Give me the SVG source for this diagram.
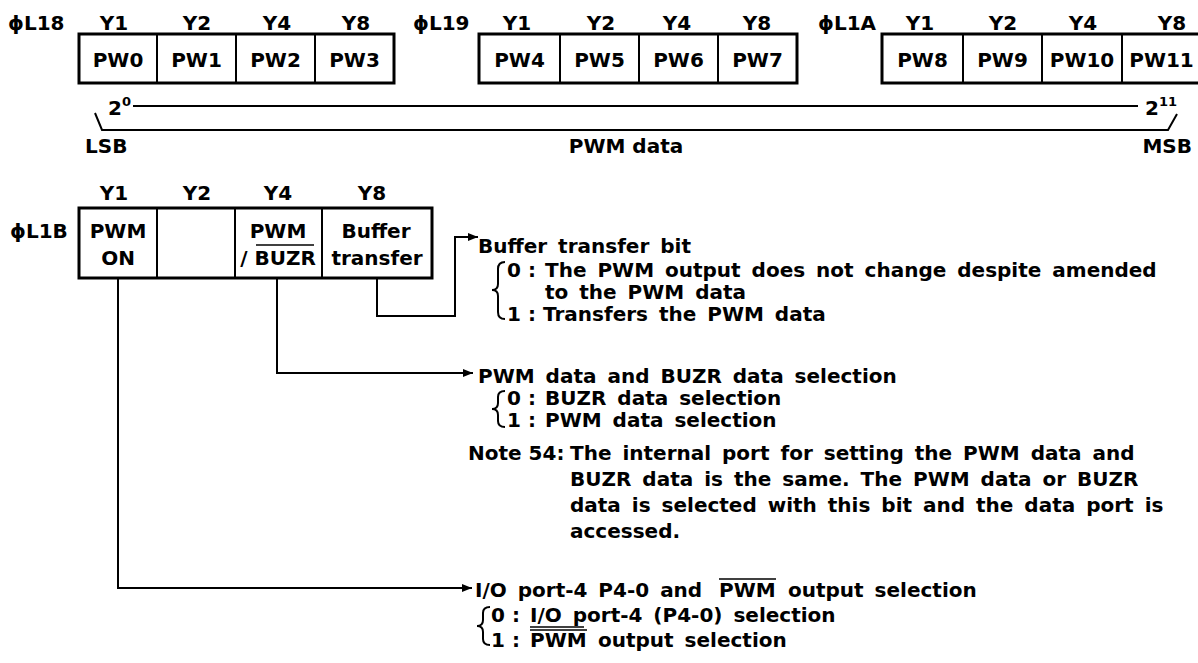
<svg xmlns="http://www.w3.org/2000/svg" width="1198" height="663" viewBox="0 0 1198 663">
<defs>
<style>
.t{font-family:"DejaVu Sans","Liberation Sans",Arial,sans-serif;font-size:20px;font-weight:bold;fill:#000}
.c{text-anchor:middle}
.e{text-anchor:end}
.d{word-spacing:4px}
.sup{font-size:13px}
.box{fill:#fff;stroke:#000;stroke-width:3}
.dv{stroke:#000;stroke-width:2}
.ln{fill:none;stroke:#000;stroke-width:2}
.ol{stroke:#000;stroke-width:1.5}
</style>
<marker id="ah" markerUnits="userSpaceOnUse" markerWidth="10" markerHeight="8" refX="10" refY="4" orient="auto">
<path d="M0,0 L10,4 L0,8 z" fill="#000"/>
</marker>
</defs>
<rect width="1198" height="663" fill="#fff"/>

<g id="reg-L18">
<text class="t" x="8" y="30">ϕL18</text>
<text class="t c" x="114" y="30">Y1</text>
<text class="t c" x="197" y="30">Y2</text>
<text class="t c" x="277" y="30">Y4</text>
<text class="t c" x="356" y="30">Y8</text>
<rect class="box" x="79" y="34" width="315" height="49"/>
<line class="dv" x1="157" y1="34" x2="157" y2="83"/>
<line class="dv" x1="236" y1="34" x2="236" y2="83"/>
<line class="dv" x1="315" y1="34" x2="315" y2="83"/>
<text class="t c" x="118" y="67">PW0</text>
<text class="t c" x="196.5" y="67">PW1</text>
<text class="t c" x="275.5" y="67">PW2</text>
<text class="t c" x="354.5" y="67">PW3</text>
</g>

<g id="reg-L19">
<text class="t" x="413" y="30">ϕL19</text>
<text class="t c" x="517" y="30">Y1</text>
<text class="t c" x="601" y="30">Y2</text>
<text class="t c" x="677" y="30">Y4</text>
<text class="t c" x="757" y="30">Y8</text>
<rect class="box" x="479" y="34" width="318" height="49"/>
<line class="dv" x1="560" y1="34" x2="560" y2="83"/>
<line class="dv" x1="639" y1="34" x2="639" y2="83"/>
<line class="dv" x1="718" y1="34" x2="718" y2="83"/>
<text class="t c" x="519.5" y="67">PW4</text>
<text class="t c" x="599.5" y="67">PW5</text>
<text class="t c" x="678.5" y="67">PW6</text>
<text class="t c" x="757.5" y="67">PW7</text>
</g>

<g id="reg-L1A">
<text class="t" x="818" y="30">ϕL1A</text>
<text class="t c" x="920" y="30">Y1</text>
<text class="t c" x="1003" y="30">Y2</text>
<text class="t c" x="1083" y="30">Y4</text>
<text class="t c" x="1172" y="30">Y8</text>
<rect class="box" x="882" y="34" width="319" height="49"/>
<line class="dv" x1="963" y1="34" x2="963" y2="83"/>
<line class="dv" x1="1042" y1="34" x2="1042" y2="83"/>
<line class="dv" x1="1122" y1="34" x2="1122" y2="83"/>
<text class="t c" x="922.5" y="67">PW8</text>
<text class="t c" x="1002.5" y="67">PW9</text>
<text class="t c" x="1082" y="67">PW10</text>
<text class="t c" x="1161.5" y="67">PW11</text>
</g>

<g id="pwm-data-span">
<text class="t" x="108" y="115">2<tspan class="sup" dy="-9">0</tspan></text>
<line class="ln" x1="133" y1="106" x2="1138" y2="106"/>
<text class="t" x="1145" y="115">2<tspan class="sup" dy="-9">11</tspan></text>
<polyline class="ln" points="95,113 102,130 1168,130 1177,114"/>
<text class="t" x="85" y="153">LSB</text>
<text class="t c" x="626" y="153">PWM data</text>
<text class="t e" x="1192" y="153">MSB</text>
</g>

<g id="reg-L1B">
<text class="t" x="10" y="238">ϕL1B</text>
<text class="t c" x="114" y="200">Y1</text>
<text class="t c" x="197" y="200">Y2</text>
<text class="t c" x="278" y="200">Y4</text>
<text class="t c" x="372" y="200">Y8</text>
<rect class="box" x="79" y="208" width="353" height="70"/>
<line class="dv" x1="157" y1="208" x2="157" y2="278"/>
<line class="dv" x1="235" y1="208" x2="235" y2="278"/>
<line class="dv" x1="322" y1="208" x2="322" y2="278"/>
<text class="t c" x="118" y="238">PWM</text>
<text class="t c" x="118" y="265">ON</text>
<text class="t c" x="278" y="238">PWM</text>
<text class="t c" x="278" y="265">/ BUZR</text>
<line class="ol" x1="256" y1="245" x2="314" y2="245"/>
<text class="t c" x="376" y="238">Buffer</text>
<text class="t c" x="377" y="265">transfer</text>
</g>

<g id="connectors">
<path class="ln" d="M377,278 V316 H455 V237 H478" marker-end="url(#ah)"/>
<path class="ln" d="M277,278 V373 H473" marker-end="url(#ah)"/>
<path class="ln" d="M118,278 V588 H472" marker-end="url(#ah)"/>
</g>

<g id="desc-buffer">
<text class="t d" x="478" y="253">Buffer transfer bit</text>
<path class="ln" d="M505,262 Q498,262 498,269 L498,284 Q498,290 492,290 Q498,290 498,296 L498,312 Q498,319 505,319"/>
<text class="t" x="507" y="277">0 :</text>
<text class="t d" x="545" y="277">The PWM output does not change despite amended</text>
<text class="t d" x="545" y="299">to the PWM data</text>
<text class="t" x="507" y="321">1 :</text>
<text class="t d" x="543" y="321">Transfers the PWM data</text>
</g>

<g id="desc-buzr">
<text class="t d" x="478" y="383">PWM data and BUZR data selection</text>
<path class="ln" d="M505,391 Q498,391 498,397 L498,403 Q498,409 492,409 Q498,409 498,415 L498,421 Q498,427 505,427"/>
<text class="t" x="507" y="405">0 :</text>
<text class="t d" x="545" y="405">BUZR data selection</text>
<text class="t" x="507" y="427">1 :</text>
<text class="t d" x="545" y="427">PWM data selection</text>
<text class="t" x="468" y="460">Note 54:</text>
<text class="t d" x="570" y="460">The internal port for setting the PWM data and</text>
<text class="t d" x="570" y="486">BUZR data is the same. The PWM data or BUZR</text>
<text class="t d" x="570" y="512">data is selected with this bit and the data port is</text>
<text class="t d" x="570" y="538">accessed.</text>
</g>

<g id="desc-port">
<text class="t d" x="475" y="597">I/O port-4 P4-0 and</text>
<text class="t" x="719" y="597">PWM</text>
<line class="ol" x1="719" y1="579" x2="776" y2="579"/>
<text class="t d" x="788" y="597">output selection</text>
<path class="ln" d="M490,607 Q483,607 483,613 L483,620 Q483,626 477,626 Q483,626 483,632 L483,639 Q483,645 490,645"/>
<text class="t" x="491" y="622">0 :</text>
<text class="t d" x="530" y="622">I/O port-4 (P4-0) selection</text>
<line class="ol" x1="530" y1="627" x2="584" y2="627"/>
<text class="t" x="491" y="647">1 :</text>
<text class="t" x="530" y="647">PWM</text>
<line class="ol" x1="530" y1="630" x2="587" y2="630"/>
<text class="t d" x="598" y="647">output selection</text>
</g>
</svg>
